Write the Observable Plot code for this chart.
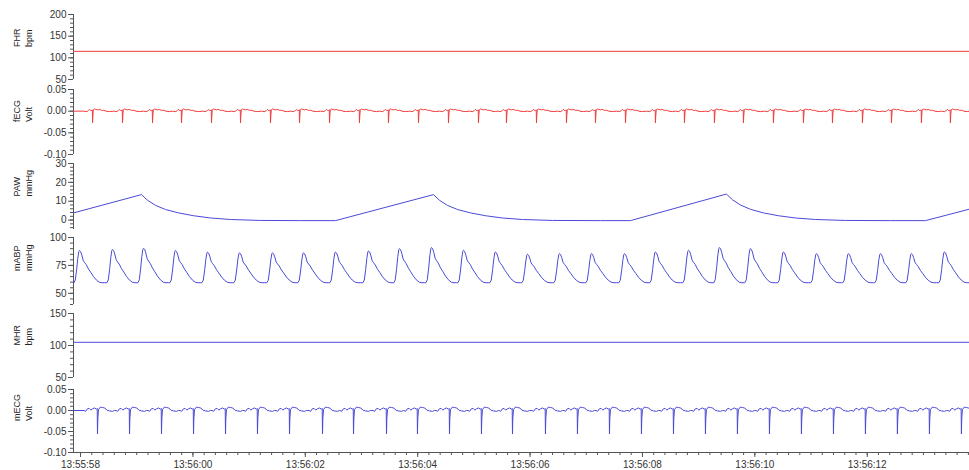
<!DOCTYPE html>
<html><head><meta charset="utf-8">
<script src="https://cdn.jsdelivr.net/npm/d3@7"></script>
<script src="https://cdn.jsdelivr.net/npm/@observablehq/plot@0.6"></script>
<style>
body{margin:0;background:#fff;}
#chart{position:relative;width:969px;height:470px;overflow:hidden;background:#fff;font-family:"Liberation Sans",Arial,sans-serif;}
#chart svg{position:absolute;left:0;overflow:visible;background:transparent;}
</style></head><body><div id="chart"></div>
<script>
// ---------- data ----------
const startClock = [13, 55, 58];           // clock time at t = 0 s
const xDomain = [-0.125, 15.82];           // seconds relative to 13:55:58
const xMajorTicks = [0, 2, 4, 6, 8, 10, 12, 14];
const xMinorStep = 0.2;

const panelNames = ["FHR", "fECG", "PAW", "mABP", "MHR", "mECG"];
const panelUnits = ["bpm", "Volt", "mmHg", "mmHg", "bpm", "Volt"];
const panelDomains = [[50, 200], [-0.10, 0.05], [-5, 30], [40, 100], [50, 150], [-0.10, 0.05]];
const panelMajorTicks = [[50, 100, 150, 200], [-0.10, -0.05, 0, 0.05], [0, 10, 20, 30], [50, 75, 100], [50, 100, 150], [-0.10, -0.05, 0, 0.05]];
const panelMinorStep = [10, 0.01, 2, 5, 10, 0.01];
const panelDecimals = [0, 2, 0, 0, 0, 2];

// heart rates (constant traces)
const fhrTimes = [-0.125, 15.82];
const fhrValues = [115, 115];
const mhrTimes = [-0.125, 15.82];
const mhrValues = [105, 105];

// fetal ECG: beat (S-spike) times and one beat's shape
const fecgBeatTimes = [0.214, 0.747, 1.281, 1.797, 2.331, 2.847, 3.381, 3.897, 4.431, 4.964, 5.480, 6.014, 6.548, 7.082, 7.580, 8.114, 8.648, 9.164, 9.698, 10.231, 10.747, 11.281, 11.797, 12.331, 12.865, 13.381, 13.915, 14.431, 14.964, 15.480];
const fecgShapeDt = [-0.16, -0.10, -0.07, -0.05, -0.03, -0.012, -0.004, 0, 0.006, 0.014, 0.03, 0.06, 0.09, 0.12, 0.16, 0.20, 0.24, 0.30];
const fecgShapeV  = [0.000, -0.001, 0.002, 0.004, 0.001, 0.002, 0.003, -0.027, -0.010, 0.003, 0.005, 0.004, 0.003, 0.004, 0.002, 0.002, 0.000, -0.001];

// pulmonary airway pressure
const pawTimes  = [-0.125, 1.085, 1.192, 1.335, 1.512, 1.744, 2.011, 2.313, 2.669, 3.203, 3.915, 4.537, 6.281, 6.388, 6.530, 6.708, 6.940, 7.206, 7.509, 7.865, 8.399, 9.253, 9.786, 11.495, 11.601, 11.744, 11.922, 12.153, 12.420, 12.722, 13.078, 13.612, 14.413, 15.036, 15.819];
const pawValues = [3.8, 13.5, 10.5, 7.8, 5.6, 3.8, 2.3, 1.1, 0.3, -0.2, -0.3, -0.3, 13.5, 10.5, 7.8, 5.6, 3.8, 2.3, 1.1, 0.3, -0.2, -0.3, -0.3, 13.8, 10.8, 8.0, 5.7, 3.8, 2.3, 1.1, 0.3, -0.2, -0.3, -0.3, 5.8];

// maternal arterial blood pressure: systolic peak times / values and one beat's shape
const abpPeakTimes  = [-0.018, 0.569, 1.121, 1.690, 2.260, 2.829, 3.416, 3.968, 4.537, 5.125, 5.676, 6.246, 6.815, 7.384, 7.954, 8.523, 9.093, 9.680, 10.231, 10.819, 11.370, 11.922, 12.509, 13.096, 13.665, 14.235, 14.786, 15.374, 15.943];
const abpPeakValues = [88.4, 89.3, 90.4, 88.4, 86.9, 86.3, 86.3, 86.3, 87.0, 88.0, 90.1, 91.0, 88.6, 87.1, 85.0, 85.6, 85.6, 85.6, 87.1, 88.6, 91.0, 90.1, 87.1, 85.6, 85.6, 85.6, 85.6, 87.1, 88.0];
const abpTrough = 59.5;
const abpShapeDt = [-0.10, -0.075, -0.05, -0.03, -0.012, 0, 0.02, 0.04, 0.065, 0.09, 0.12, 0.16, 0.20, 0.25, 0.30, 0.35, 0.40, 0.45];
const abpShapeV  = [59.5, 62, 72, 82, 88, 89, 88, 85, 80, 78, 76, 72, 69, 65, 62, 60, 59.5, 59.5];

// maternal ECG: beat (S-spike) times and one beat's shape
const mecgBeatTimes = [0.302, 0.872, 1.441, 2.011, 2.580, 3.149, 3.719, 4.306, 4.858, 5.445, 5.996, 6.566, 7.135, 7.687, 8.274, 8.843, 9.413, 9.982, 10.552, 11.121, 11.690, 12.260, 12.829, 13.399, 13.968, 14.537, 15.107, 15.676];
const mecgShapeDt = [-0.24, -0.21, -0.18, -0.15, -0.12, -0.09, -0.05, -0.018, -0.005, 0, 0.006, 0.018, 0.05, 0.09, 0.13, 0.166, 0.21, 0.27, 0.30];
const mecgShapeV  = [0.000, -0.002, 0.004, 0.005, 0.001, 0.004, 0.006, 0.003, 0.005, -0.056, -0.020, 0.002, 0.008, 0.007, 0.006, 0.001, -0.001, -0.002, 0.000];

// ---------- build series ----------
const zip = (ts, vs) => ts.map((t, i) => ({t, v: vs[i]}));
function beats(times, dts, vs, startT, endT) {
  const out = [{t: startT, v: 0}];
  for (const bt of times) dts.forEach((d, i) => out.push({t: bt + d, v: vs[i]}));
  out.push({t: endT, v: 0});
  return out.sort((a, b) => a.t - b.t);
}
const fhr = zip(fhrTimes, fhrValues);
const mhr = zip(mhrTimes, mhrValues);
const fecg = beats(fecgBeatTimes, fecgShapeDt, fecgShapeV, xDomain[0], xDomain[1]);
const mecg = beats(mecgBeatTimes, mecgShapeDt, mecgShapeV, xDomain[0], 16.2);
const paw = zip(pawTimes, pawValues);
const abp = [];
abpPeakTimes.forEach((pt, k) => {
  const s = (abpPeakValues[k] - abpTrough) / (89 - abpTrough);
  abpShapeDt.forEach((d, i) => abp.push({t: pt + d, v: abpTrough + (abpShapeV[i] - abpTrough) * s}));
});

const seriesList = [fhr, fecg, paw, abp, mhr, mecg];
const red = "#f03c3c", blue = "#4a4ad8";
const colors = [red, red, blue, blue, blue, blue];

// ---------- layout ----------
const W = 969, ML = 73;
const tops = [14, 89, 163, 237, 313, 389];
const bottoms = [79, 154, 229, 304, 377, 452];
const axisColor = "#555", textColor = "#333";

function timeFmt(t) {
  const s0 = startClock[0] * 3600 + startClock[1] * 60 + startClock[2];
  const s = Math.round(s0 + t);
  const p = n => String(n).padStart(2, "0");
  return `${Math.floor(s / 3600)}:${p(Math.floor(s / 60) % 60)}:${p(s % 60)}`;
}
function stepRange(a, b, step) {
  const out = [];
  const n0 = Math.ceil(a / step - 1e-9), n1 = Math.floor(b / step + 1e-9);
  for (let n = n0; n <= n1; n++) out.push(+(n * step).toFixed(6));
  return out;
}

const root = document.getElementById("chart");
panelNames.forEach((name, i) => {
  const last = i === panelNames.length - 1;
  const mt = 8, mb = last ? 22 : 8;
  const h = bottoms[i] - tops[i];
  const [y0, y1] = panelDomains[i];
  const dec = panelDecimals[i];
  const marks = [
    Plot.ruleX([xDomain[0]], {stroke: axisColor}),
    Plot.axisY(stepRange(y0, y1, panelMinorStep[i]), {tickSize: 3, tickFormat: () => "", stroke: axisColor, label: null}),
    Plot.axisY(panelMajorTicks[i], {tickSize: 5, tickPadding: 2, tickFormat: d => d.toFixed(dec), stroke: axisColor, fill: textColor, fontSize: 10, label: null}),
    Plot.line(seriesList[i], {x: "t", y: "v", stroke: colors[i], strokeWidth: 1, clip: true}),
    Plot.text([name], {frameAnchor: "left", dx: -56, rotate: -90, fontSize: 9, fill: "#222"}),
    Plot.text([panelUnits[i]], {frameAnchor: "left", dx: -44, rotate: -90, fontSize: 9, fill: "#222"})
  ];
  if (last) {
    marks.push(
      Plot.ruleY([y0], {stroke: axisColor}),
      Plot.axisX(stepRange(0, xDomain[1], xMinorStep), {tickSize: 3, tickFormat: () => "", stroke: axisColor, label: null}),
      Plot.axisX(xMajorTicks, {tickSize: 5, tickPadding: 3, tickFormat: timeFmt, stroke: axisColor, fill: textColor, fontSize: 10, label: null})
    );
  }
  const svg = Plot.plot({
    width: W,
    height: h + mt + mb,
    marginLeft: ML, marginRight: 0, marginTop: mt, marginBottom: mb,
    style: {background: "transparent", overflow: "visible", fontFamily: "Liberation Sans, Arial, sans-serif", fontSize: "10px"},
    x: {domain: xDomain, axis: last ? undefined : null},
    y: {domain: [y0, y1]},
    marks
  });
  svg.style.top = (tops[i] - mt) + "px";
  root.appendChild(svg);
});
</script></body></html>
